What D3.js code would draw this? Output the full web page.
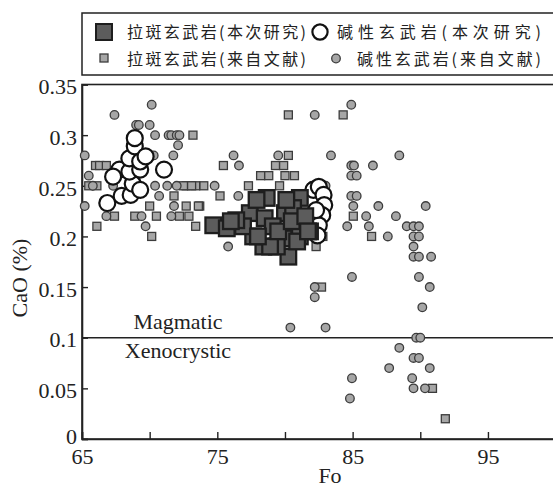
<!DOCTYPE html>
<html><head><meta charset="utf-8">
<script src="https://cdn.jsdelivr.net/npm/d3@7"></script>
<style>body{margin:0;background:#fff}svg{display:block}</style>
</head><body>
<script>
// ---------------- data ----------------
const xTicks = [65,70,75,80,85,90,95,100];
const xTickLabels = [65,75,85,95];
const yTicks = [0,0.05,0.1,0.15,0.2,0.25,0.3,0.35];
const yTickLabels = ["0","0.05","0.1","0.15","0.2","0.25","0.3","0.35"];
const legendLabels = ["拉斑玄武岩(本次研究)","碱性玄武岩(本次研究)","拉斑玄武岩(来自文献)","碱性玄武岩(来自文献)"];
const boundaryValue = 0.1;

// 拉斑玄武岩(来自文献) [Fo, CaO]
const tholeiiteLit = [
 [80.25,0.32],[84.3,0.32],[80.25,0.28],[75.45,0.27],[79.3,0.27],[79.9,0.27],
 [78.2,0.26],[78.8,0.26],[80.0,0.26],[80.7,0.26],[74.0,0.25],[77.3,0.25],[79.6,0.25],
 [75.2,0.24],[78.6,0.24],[80.7,0.24],[73.7,0.23],[85.05,0.22],[86.4,0.2],[82.3,0.19],[82.8,0.2],
 [82.7,0.15],[90.9,0.05],[91.85,0.02],[73.2,0.3],[66.0,0.27],[66.3,0.27],[66.8,0.27],
 [67.1,0.26],[65.5,0.25],[66.1,0.25],[72.7,0.25],[73.4,0.25],[72.5,0.25],[73.1,0.25],
 [71.8,0.24],[70.0,0.23],[72.7,0.23],[73.6,0.23],[67.4,0.22],[68.9,0.22],[70.5,0.22],
 [72.2,0.22],[72.9,0.22],[66.1,0.21],[73.4,0.21],[70.15,0.2]
];
// 碱性玄武岩(来自文献)
const alkaliLit = [
 [82.2,0.32],[84.9,0.33],[76.2,0.28],[79.5,0.28],[83.4,0.28],[88.45,0.28],
 [76.6,0.27],[84.9,0.27],[85.1,0.27],[86.5,0.27],[84.9,0.26],[85.3,0.26],
 [74.8,0.25],[82.0,0.25],[83.0,0.25],[84.9,0.24],[85.3,0.24],[76.55,0.24],
 [85.05,0.23],[86.9,0.23],[90.4,0.23],[86.0,0.22],[88.2,0.22],
 [84.6,0.21],[86.2,0.21],[89.0,0.21],[89.5,0.21],[89.9,0.21],
 [87.6,0.2],[89.5,0.2],[89.9,0.2],[89.5,0.19],[75.8,0.19],
 [89.5,0.18],[89.9,0.18],[90.8,0.18],[84.95,0.16],[89.9,0.16],
 [82.2,0.15],[90.7,0.15],[82.2,0.14],[90.15,0.13],[80.4,0.11],[83.0,0.11],
 [89.7,0.1],[90.0,0.1],[88.45,0.09],[89.5,0.08],[89.9,0.08],[87.7,0.07],[90.7,0.07],
 [84.95,0.06],[89.4,0.06],[89.5,0.05],[90.35,0.05],[84.8,0.04],
 [65.2,0.28],[67.4,0.32],[70.15,0.33],[69.0,0.31],[69.2,0.31],[70.0,0.31],
 [70.4,0.3],[71.4,0.3],[71.6,0.3],[72.0,0.3],[72.2,0.3],[72.1,0.29],[70.3,0.28],[71.75,0.28],
 [65.5,0.26],[65.8,0.25],[67.3,0.25],[70.4,0.25],[71.3,0.25],[72.0,0.25],[70.7,0.24],
 [65.2,0.23],[71.8,0.23],[66.8,0.22],[69.4,0.22],[71.6,0.22],[69.7,0.21]
];
// 碱性玄武岩(本次研究)
const alkaliThis = [
 [66.87,0.233],[67.93,0.24],[68.6,0.241],[68.75,0.252],[67.76,0.266],[68.5,0.264],
 [69.3,0.266],[68.5,0.277],[69.3,0.274],[68.9,0.289],[68.9,0.297],[69.7,0.279],
 [71.06,0.266],[67.3,0.259],[69.3,0.246],
 [82.1,0.246],[82.5,0.249],[82.85,0.241],[82.9,0.231],[82.75,0.221],[82.5,0.211],[82.4,0.201],[82.3,0.226]
];
// 拉斑玄武岩(本次研究)
const tholeiiteThis = [
 [74.7,0.211],[75.7,0.208],[77.4,0.223],[78.65,0.238],[81.1,0.238],[80.0,0.223],
 [78.5,0.218],[81.85,0.205],[79.9,0.198],[78.4,0.19],[80.25,0.18],[77.65,0.2],
 [76.9,0.21],[80.6,0.228],[77.9,0.236],[79.1,0.21],[81.1,0.2],[79.4,0.19],
 [80.1,0.236],[76.4,0.216],[78.9,0.19],[76.0,0.215],[79.5,0.205],[80.5,0.215],
 [81.5,0.22],[78.0,0.2],[80.9,0.195],[81.7,0.205]
];

// ---------------- chart ----------------
const W = 553, H = 488;
const svg = d3.select("body").append("svg").attr("width", W).attr("height", H);
const x = d3.scaleLinear().domain([65,100]).range([82, 555.6]);
const y = d3.scaleLinear().domain([0,0.35]).range([439, 84.5]);
const serif = "'Liberation Serif','Times New Roman',serif";
const cjk = "'Noto Sans CJK SC',sans-serif";
const ink = "#222";

// frame
svg.append("rect").attr("x", x(65)).attr("y", y(0.35))
  .attr("width", x(100)-x(65)).attr("height", y(0)-y(0.35))
  .attr("fill","none").attr("stroke", ink).attr("stroke-width", 1.6);

// boundary line
svg.append("line").attr("x1", x(65)).attr("x2", x(100))
  .attr("y1", y(boundaryValue)).attr("y2", y(boundaryValue))
  .attr("stroke", ink).attr("stroke-width", 1.4);
svg.append("text").attr("x", 178).attr("y", 329).attr("text-anchor","middle")
  .attr("font-family", serif).attr("font-size", 22).attr("fill","#222").text("Magmatic");
svg.append("text").attr("x", 178).attr("y", 358).attr("text-anchor","middle")
  .attr("font-family", serif).attr("font-size", 22).attr("fill","#222").text("Xenocrystic");

// axes
const xAxis = d3.axisBottom(x).tickValues(xTicks).tickSize(-7).tickPadding(9)
  .tickFormat(d => xTickLabels.includes(d) ? String(d) : "");
const gx = svg.append("g").attr("transform", `translate(0,${y(0)})`).call(xAxis);
const yAxis = d3.axisLeft(y).tickValues(yTicks).tickSize(-6).tickPadding(5)
  .tickFormat((d,i) => yTickLabels[i]);
const gy = svg.append("g").attr("transform", `translate(${x(65)},0)`).call(yAxis);
[gx, gy].forEach(g => {
  g.select(".domain").attr("stroke", ink).attr("stroke-width", 1.6);
  g.selectAll(".tick line").attr("stroke", ink).attr("stroke-width", 1.4);
  g.selectAll(".tick text").attr("font-family", serif).attr("font-size", 22).attr("fill", "#222");
});
gy.selectAll(".tick text").attr("dy", "0.42em");
gy.selectAll(".tick text").filter((d,i) => i === 0).attr("dy", "0.2em");

svg.append("text").attr("x", 330).attr("y", 483).attr("text-anchor","middle")
  .attr("font-family", serif).attr("font-size", 22).attr("fill","#222").text("Fo");
svg.append("text").attr("transform", `translate(27,278) rotate(-90)`)
  .attr("text-anchor","middle").attr("font-family", serif).attr("font-size", 22)
  .attr("fill","#222").text("CaO (%)");

// marks
const plot = svg.append("g");
const smallFill = "#a6a6a6", smallStroke = "#3c3c3c";
plot.selectAll(".tl").data(tholeiiteLit).join("rect").attr("class","tl")
  .attr("x", d => x(d[0]) - 4).attr("y", d => y(d[1]) - 4).attr("width", 8).attr("height", 8)
  .attr("fill", smallFill).attr("stroke", smallStroke).attr("stroke-width", 1.3);
plot.selectAll(".al").data(alkaliLit).join("circle").attr("class","al")
  .attr("cx", d => x(d[0])).attr("cy", d => y(d[1])).attr("r", 4.3)
  .attr("fill", smallFill).attr("stroke", smallStroke).attr("stroke-width", 1.3);
plot.selectAll(".at").data(alkaliThis).join("circle").attr("class","at")
  .attr("cx", d => x(d[0])).attr("cy", d => y(d[1])).attr("r", 8)
  .attr("fill", "#fff").attr("stroke", "#111").attr("stroke-width", 2.2);
plot.selectAll(".tt").data(tholeiiteThis).join("rect").attr("class","tt")
  .attr("x", d => x(d[0]) - 7.8).attr("y", d => y(d[1]) - 7.8).attr("width", 15.6).attr("height", 15.6)
  .attr("fill", "#5c5c5c").attr("stroke", "#1e1e1e").attr("stroke-width", 2.3);

// legend
const lg = svg.append("g");
lg.append("rect").attr("x", 82).attr("y", 13).attr("width", 490).attr("height", 62)
  .attr("fill", "#fff").attr("stroke", ink).attr("stroke-width", 1.5);
lg.append("rect").attr("x", 96).attr("y", 24).attr("width", 16).attr("height", 16)
  .attr("fill", "#5c5c5c").attr("stroke", "#1e1e1e").attr("stroke-width", 2);
lg.append("circle").attr("cx", 320).attr("cy", 32).attr("r", 7.6)
  .attr("fill", "#fff").attr("stroke", "#111").attr("stroke-width", 2.2);
lg.append("rect").attr("x", 100).attr("y", 54).attr("width", 8).attr("height", 8)
  .attr("fill", smallFill).attr("stroke", smallStroke).attr("stroke-width", 1.3);
lg.append("circle").attr("cx", 336).attr("cy", 58.5).attr("r", 4.3)
  .attr("fill", smallFill).attr("stroke", smallStroke).attr("stroke-width", 1.3);
const legendPos = [[127,32,179],[337,32,204],[127,59,179],[357,59,184]];
legendLabels.forEach((t,i) => {
  const p = legendPos[i];
  lg.append("text").attr("x", p[0]).attr("y", p[1]).attr("dy","0.36em")
    .attr("font-family", cjk).attr("font-size", 16).attr("fill","#222")
    .attr("textLength", p[2]).attr("lengthAdjust","spacing").text(t);
});
</script>
</body></html>
